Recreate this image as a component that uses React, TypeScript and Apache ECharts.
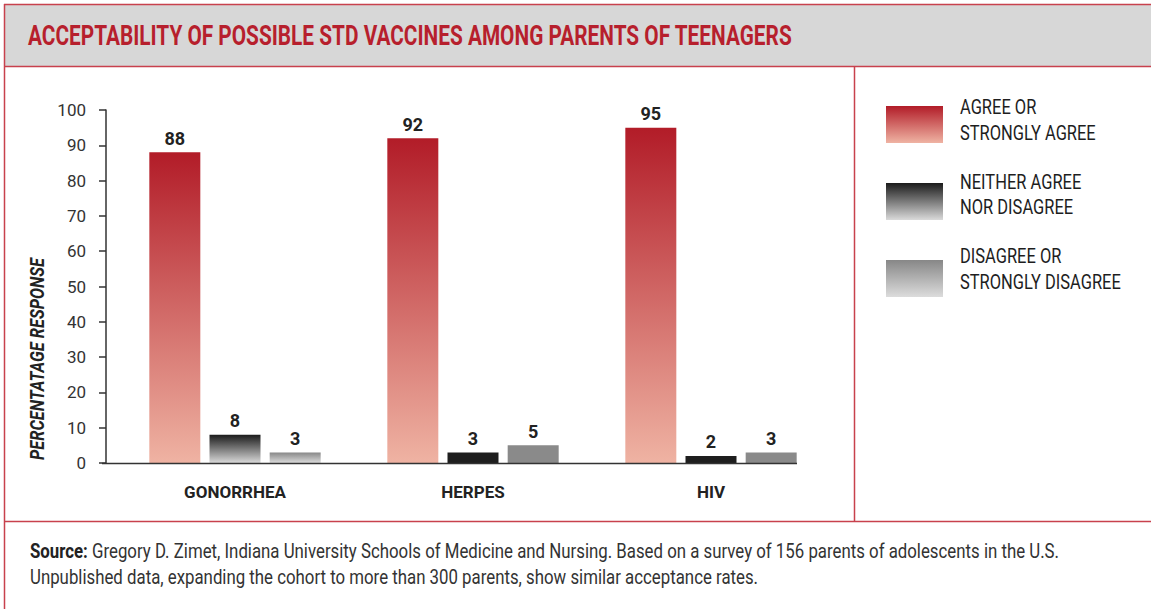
import React, { useEffect, useRef } from "react";
import * as echarts from "echarts";

const titleText = "ACCEPTABILITY OF POSSIBLE STD VACCINES AMONG PARENTS OF TEENAGERS";
const yAxisTitle = "PERCENTATAGE RESPONSE";
const categories = ["GONORRHEA", "HERPES", "HIV"];
const seriesNames = ["AGREE OR STRONGLY AGREE", "NEITHER AGREE NOR DISAGREE", "DISAGREE OR STRONGLY DISAGREE"];
const legendLines = [
  ["AGREE OR", "STRONGLY AGREE"],
  ["NEITHER AGREE", "NOR DISAGREE"],
  ["DISAGREE OR", "STRONGLY DISAGREE"],
];
const agree = [88, 92, 95];
const neither = [8, 3, 2];
const disagree = [3, 5, 3];
const yMin = 0;
const yMax = 100;
const yInterval = 10;
const sourceBold = "Source:";
const sourceLine1 = " Gregory D. Zimet, Indiana University Schools of Medicine and Nursing. Based on a survey of 156 parents of adolescents in the U.S.";
const sourceLine2 = "Unpublished data, expanding the cohort to more than 300 parents, show similar acceptance rates.";

const FAMILY = "Roboto, 'Liberation Sans', sans-serif";
const RED = "#c8414d";
const TITLE_RED = "#b71f2d";

const measure = (text: string, font: string) => {
  const ctx = document.createElement("canvas").getContext("2d");
  if (!ctx) return text.length * 10;
  ctx.font = font;
  return ctx.measureText(text).width;
};

const grad = (top: string, bottom: string) =>
  new echarts.graphic.LinearGradient(0, 0, 0, 1, [
    { offset: 0, color: top },
    { offset: 1, color: bottom },
  ]);

export default function App() {
  const ref = useRef<HTMLDivElement>(null);
  useEffect(() => {
    if (!ref.current) return;
    const chart = echarts.init(ref.current, null, { renderer: "svg" });
    const redGrad = grad("#b21c28", "#efb3a3");
    const blackGrad = grad("#1b1b1b", "#dadada");
    const grayGrad = grad("#878787", "#dcdcdc");

    // horizontal condensing factors to mimic the condensed typeface
    const titleSize = 27;
    const titleScale = 765 / measure(titleText, `bold ${titleSize}px ${FAMILY}`);
    const yTitleSize = 21;
    const yTitleScale = 202 / measure(yAxisTitle, `italic bold ${yTitleSize}px ${FAMILY}`);
    const srcSize = 20;
    const srcW =
      measure(sourceBold, `bold ${srcSize}px ${FAMILY}`) + measure(sourceLine1, `${srcSize}px ${FAMILY}`);
    const srcScale = 1030 / srcW;
    const legSize = 21;
    const legScale = 161 / measure(legendLines[2][1], `${legSize}px ${FAMILY}`);
    const legendTop = [107, 181.5, 256];

    const labelStyle = {
      show: true,
      position: "top",
      distance: 5,
      fontFamily: FAMILY,
      fontWeight: "bold",
      fontSize: 18,
      color: "#222",
    };

    const legendTexts: any[] = [];
    legendLines.forEach((lines, i) => {
      lines.forEach((ln, j) => {
        legendTexts.push({
          type: "text",
          x: 960,
          y: legendTop[i] + j * 25.5,
          scaleX: legScale,
          style: {
            text: ln,
            fontFamily: FAMILY,
            fontSize: legSize,
            fill: "#1e1e1e",
            textVerticalAlign: "middle",
          },
        });
      });
    });

    const option: any = {
      animation: false,
      backgroundColor: "#ffffff",
      textStyle: { fontFamily: FAMILY },
      grid: { left: 116, top: 110, width: 714, height: 353, containLabel: false },
      legend: {
        orient: "vertical",
        left: 881,
        top: 101,
        itemWidth: 57,
        itemHeight: 37,
        itemGap: 40,
        icon: "rect",
        selectedMode: false,
        data: seriesNames,
        formatter: () => "",
        textStyle: { fontSize: 1 },
      },
      xAxis: {
        type: "category",
        data: categories,
        axisLine: { show: false },
        axisTick: { show: false },
        axisLabel: {
          margin: 20,
          fontFamily: FAMILY,
          fontWeight: "bold",
          fontSize: 17,
          color: "#222",
        },
      },
      yAxis: {
        type: "value",
        min: yMin,
        max: yMax,
        interval: yInterval,
        offset: 10,
        axisLine: { show: true, lineStyle: { color: "#333", width: 1.5 } },
        axisTick: { show: true, length: 7, lineStyle: { color: "#333", width: 1.5 } },
        splitLine: { show: false },
        axisLabel: { margin: 20, fontFamily: FAMILY, fontSize: 17, color: "#333" },
      },
      series: [
        {
          name: seriesNames[0],
          type: "bar",
          barWidth: 51,
          barGap: "18%",
          itemStyle: { color: redGrad },
          label: labelStyle,
          data: agree,
        },
        {
          name: seriesNames[1],
          type: "bar",
          barWidth: 51,
          barGap: "18%",
          itemStyle: { color: blackGrad },
          label: labelStyle,
          data: neither.map((v, i) =>
            i === 0 ? { value: v } : { value: v, itemStyle: { color: "#1e1e1e" } }
          ),
        },
        {
          name: seriesNames[2],
          type: "bar",
          barWidth: 51,
          barGap: "18%",
          itemStyle: { color: grayGrad },
          label: labelStyle,
          data: disagree.map((v, i) =>
            i === 0 ? { value: v } : { value: v, itemStyle: { color: "#8a8a8a" } }
          ),
        },
      ],
      graphic: [
        { type: "rect", shape: { x: 4, y: 4, width: 1147, height: 62 }, style: { fill: "#d7d7d7" }, z: 0 },
        { type: "line", shape: { x1: 4, y1: 4.5, x2: 1151, y2: 4.5 }, style: { stroke: RED, lineWidth: 1.5 } },
        { type: "line", shape: { x1: 4, y1: 66.5, x2: 1151, y2: 66.5 }, style: { stroke: RED, lineWidth: 1.5 } },
        { type: "line", shape: { x1: 4.5, y1: 4, x2: 4.5, y2: 609 }, style: { stroke: RED, lineWidth: 1.5 } },
        { type: "line", shape: { x1: 854.5, y1: 66, x2: 854.5, y2: 521 }, style: { stroke: RED, lineWidth: 1.5 } },
        { type: "line", shape: { x1: 4, y1: 521.5, x2: 1151, y2: 521.5 }, style: { stroke: RED, lineWidth: 1.5 } },
        { type: "line", shape: { x1: 102, y1: 463.5, x2: 797, y2: 463.5 }, style: { stroke: "#333", lineWidth: 1.5 }, z: 10 },
        {
          type: "text",
          x: 28,
          y: 36,
          scaleX: titleScale,
          style: {
            text: titleText,
            fontFamily: FAMILY,
            fontWeight: "bold",
            fontSize: titleSize,
            fill: TITLE_RED,
            textVerticalAlign: "middle",
          },
        },
        {
          type: "text",
          x: 37.5,
          y: 359,
          rotation: Math.PI / 2,
          scaleX: yTitleScale,
          style: {
            text: yAxisTitle,
            fontFamily: FAMILY,
            fontWeight: "bold",
            fontStyle: "italic",
            fontSize: yTitleSize,
            fill: "#222",
            textAlign: "center",
            textVerticalAlign: "middle",
          },
        },
        {
          type: "text",
          x: 30,
          y: 552,
          scaleX: srcScale,
          style: {
            text: "{b|" + sourceBold + "}{n|" + sourceLine1 + "}",
            textVerticalAlign: "middle",
            rich: {
              b: { fontFamily: FAMILY, fontWeight: "bold", fontSize: srcSize, fill: "#222" },
              n: { fontFamily: FAMILY, fontSize: srcSize, fill: "#333" },
            },
          },
        },
        {
          type: "text",
          x: 30,
          y: 578,
          scaleX: srcScale,
          style: {
            text: sourceLine2,
            fontFamily: FAMILY,
            fontSize: srcSize,
            fill: "#333",
            textVerticalAlign: "middle",
          },
        },
        ...legendTexts,
      ],
    };
    chart.setOption(option);
    return () => chart.dispose();
  }, []);
  return (
    <div
      ref={ref}
      style={{ position: "fixed", left: 0, top: 0, width: 1151, height: 609, background: "#fff" }}
    />
  );
}
